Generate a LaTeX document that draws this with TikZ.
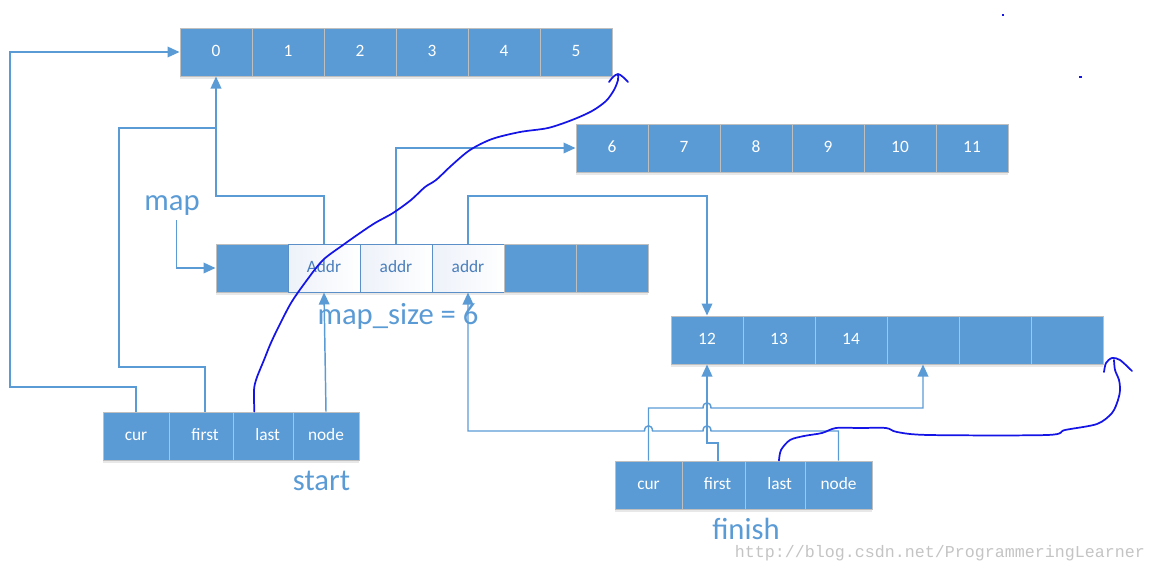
\documentclass[tikz,border=0pt]{standalone}
\usepackage{fontspec}
\setmainfont{Carlito}
\newfontfamily\wmfont{Liberation Mono}
\usetikzlibrary{arrows.meta,shadows}
\definecolor{cellblue}{HTML}{5B9BD5}
\definecolor{cellgray}{HTML}{BFBFBF}
\definecolor{connblue}{HTML}{5B9BD5}
\definecolor{penblue}{HTML}{1414E6}
\definecolor{addrtext}{HTML}{4A7EBB}
\definecolor{addrborder}{HTML}{5B8FC8}
\definecolor{addrshade}{HTML}{EDF1F9}
\definecolor{wmgray}{HTML}{C4C4C4}
\begin{document}
\begin{tikzpicture}[x=0.75pt,y=-0.75pt,
  cell/.style={draw=cellgray, line width=0.75pt, fill=cellblue, text=white,
    minimum height=36pt, minimum width=54pt, inner sep=0pt,
    text height=8.6pt, text depth=2.4pt,
    font=\fontsize{13}{15}\selectfont,
    drop shadow={shadow xshift=0pt, shadow yshift=-2pt, opacity=0.18, fill=gray}},
  addrcell/.style={cell, draw=addrborder, left color=addrshade, right color=white, text=addrtext},
  conn/.style={draw=connblue, line width=1.1pt},
  arr/.style={conn, -{Triangle[length=9pt,width=8pt]}},
  pen/.style={draw=penblue, line width=1.3pt, line cap=round, line join=round},
  biglabel/.style={text=cellblue, font=\fontsize{23}{26}\selectfont, inner sep=0pt},
]
\useasboundingbox (0,0) rectangle (1157,572);

% top array 0..5
\foreach \i in {0,...,5} \node[cell] (t\i) at ({216+72*\i},52) {\i};
% second array 6..11
\foreach \i/\t in {0/6,1/7,2/8,3/9,4/10,5/11} \node[cell] (s\i) at ({612+72*\i},148) {\t};
% map array
\node[cell] (m0) at (252,268) {};
\node[addrcell] (m1) at (324,268) {Addr};
\node[addrcell] (m2) at (396,268) {addr};
\node[addrcell] (m3) at (468,268) {addr};
\node[cell] (m4) at (540,268) {};
\node[cell] (m5) at (612,268) {};
% fourth array
\foreach \i/\t in {0/12,1/13,2/14,3/,4/,5/} \node[cell] (f\i) at ({707+72*\i},340) {\t};

% start iterator
\node[cell, minimum width=49.5pt] (sc) at (136,436) {cur};
\node[cell, minimum width=48pt] (sf) at (201,436) {\hspace*{6pt}first};
\node[cell, minimum width=45pt] (sl) at (263,436) {\hspace*{7pt}last};
\node[cell, minimum width=49.5pt] (sn) at (326,436) {node};
% finish iterator
\node[cell, minimum width=50.25pt] (fc) at (648.5,485) {cur};
\node[cell, minimum width=47.25pt] (ff) at (713.5,485) {\hspace*{6pt}first};
\node[cell, minimum width=45pt] (fl) at (775,485) {\hspace*{7pt}last};
\node[cell, minimum width=50.25pt] (fn) at (838.5,485) {node};

% labels
\node[biglabel] (map) at (172,206) {map};
\node[biglabel] (msize) at (398,316) {map\_size = 6};
\node[biglabel] (start) at (321.5,481) {start};
\node[biglabel] (finish) at (746,529) {finish};
\node[text=wmgray, font=\wmfont\fontsize{12.5}{14}\selectfont, inner sep=0pt] (wm) at (940,553) {http://blog.csdn.net/ProgrammeringLearner};

% bend coordinates
\coordinate (b1) at (10,387);
\coordinate (b2) at (119,367);
\coordinate (b3) at (216,128);
\coordinate (b4) at (216,196);
\coordinate (b5) at (707,196);
\coordinate (y408) at (0,408);
\coordinate (y431) at (0,431);
\coordinate (b6) at (707,443);

% connectors
\draw[arr] (sc.north) |- (b1) |- (t0.west);
\draw[conn] ([xshift=3pt]sf.north) |- (b2) |- (b3);
\draw[arr] (m1.north) |- (b4) -- (t0.south);
\draw[arr] (m2.north) |- (s0.west);
\draw[arr] (m3.north) |- (b5) -- (f0.north);
\draw[arr] (sn.north) -- (m1.south);
\draw[arr] ([xshift=3.5pt,yshift=-3pt]map.south) |- (m0.west);
\draw[arr] (fc.north) |- (703,408) .. controls (703,401) and (711,401) .. (711,408) -- (f3.south |- y408) -- (f3.south);
\draw[arr] ([xshift=3.5pt]ff.north) |- (b6) -- (f0.south);
\draw[arr] (fn.north) |- (711,431) .. controls (711,424) and (703,424) .. (703,431) -- (652.5,431)
  .. controls (652.5,424) and (644.5,424) .. (644.5,431) -- (m3.south |- y431) -- (m3.south);

% hand-drawn pen strokes
\draw[pen] plot[smooth, tension=0.5] coordinates {([xshift=-6.5pt]sl.north) (254,390) (256,380) (259,372) (264,360) (270,345) (277,330) (291,303) (307,280) (323,260) (343,245) (360,233) (375,223) (393,213) (411,200) (425,187) (436,180) (452,165) (470,150) (492,139) (520,132) (548,128) (572,120) (592,111) (606,101) (614,90) (618,80) (618,75)};
\draw[pen] plot[smooth, tension=0.5] coordinates {(609,82) (613,77) (618,74) (623,77) (628,82)};
\draw[pen] plot[smooth, tension=0.5] coordinates {([xshift=3pt]fl.north) (781,450) (790,440) (804,436) (822,433) (836,428) (860,428) (886,428) (897,432) (929,435) (1047,435) (1065,430) (1097,424) (1112,413) (1118,400) (1120,390) (1119,380) (1115,370) (1114,360)};
\draw[pen] plot[smooth, tension=0.5] coordinates {(1104,372) (1106,363) (1112,358) (1120,360) (1132,371)};
\fill[penblue] (1002,14) rectangle (1004,16);
\fill[penblue] (1079,76) rectangle (1082,78);
\end{tikzpicture}
\end{document}
